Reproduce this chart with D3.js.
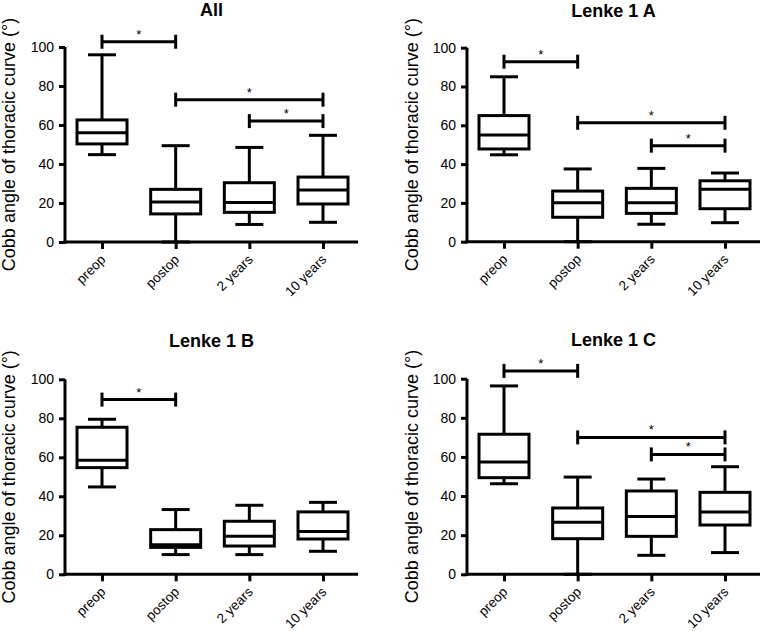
<!DOCTYPE html>
<html>
<head>
<meta charset="utf-8">
<script src="https://cdn.jsdelivr.net/npm/d3@7/dist/d3.min.js"></script>
<style>
  html, body { margin: 0; padding: 0; background: #fff; }
  svg { display: block; }
  text { font-family: Arial, "Liberation Sans", Helvetica, sans-serif; fill: #000; }
</style>
</head>
<body>
<svg id="chart" width="761" height="631"></svg>
<script>
// ---------- DATA ----------
const categories = ["preop", "postop", "2 years", "10 years"];
const yTicks = [0, 20, 40, 60, 80, 100];
const panelTitles = ["All", "Lenke 1 A", "Lenke 1 B", "Lenke 1 C"];

// five-number summaries per category: [min, q1, median, q3, max]
const statsAll = [
  [44.8, 50.3, 56.0, 62.6, 96.0],
  [0.0, 14.4, 20.5, 27.0, 49.4],
  [9.0, 15.2, 20.3, 30.4, 48.5],
  [10.1, 19.5, 26.7, 33.3, 54.7]
];
const stats1A = [
  [44.8, 47.8, 55.0, 65.0, 85.0],
  [0.0, 12.6, 20.1, 26.1, 37.5],
  [9.0, 14.6, 20.1, 27.5, 37.8],
  [9.8, 17.0, 27.0, 31.4, 35.4]
];
const stats1B = [
  [44.8, 54.7, 58.5, 75.4, 79.5],
  [10.1, 13.8, 15.2, 22.9, 33.2],
  [10.1, 14.5, 19.5, 27.2, 35.4],
  [11.8, 18.1, 22.0, 32.0, 36.9]
];
const stats1C = [
  [46.3, 49.4, 57.4, 71.6, 96.3],
  [0.0, 18.2, 26.6, 33.9, 49.7],
  [9.7, 19.4, 29.5, 42.6, 48.7],
  [11.1, 25.2, 31.9, 41.9, 55.0]
];

// significance brackets: [from category index, to category index, y value]
const sigAll = [[0, 1, 102.7], [1, 3, 73.0], [2, 3, 62.0]];
const sig1A = [[0, 1, 92.8], [1, 3, 61.3], [2, 3, 49.5]];
const sig1B = [[0, 1, 89.6]];
const sig1C = [[0, 1, 104.0], [1, 3, 70.0], [2, 3, 61.3]];

const yLabel = "Cobb angle of thoracic curve (°)";

// ---------- LAYOUT ----------
const panels = [
  { title: panelTitles[0], stats: statsAll, sig: sigAll, x0: 65, x1: 358, yTop: 47, yBot: 242, titleY: 16, labelX: 15 },
  { title: panelTitles[1], stats: stats1A, sig: sig1A, x0: 467, x1: 760, yTop: 47.7, yBot: 241.7, titleY: 17, labelX: 418 },
  { title: panelTitles[2], stats: stats1B, sig: sig1B, x0: 65, x1: 358, yTop: 379.3, yBot: 574.3, titleY: 347, labelX: 15 },
  { title: panelTitles[3], stats: stats1C, sig: sig1C, x0: 467, x1: 760, yTop: 378.7, yBot: 574.3, titleY: 346, labelX: 418 }
];

const svg = d3.select("#chart");
const SW = 3;
const boxW = 50;
const capW = 28;

panels.forEach(p => {
  const g = svg.append("g");
  const y = d3.scaleLinear().domain([0, 100]).range([p.yBot, p.yTop]);
  const x = d3.scalePoint().domain(categories).range([p.x0 + 37, p.x0 + 258]);

  // y axis
  const ya = g.append("g")
    .attr("transform", `translate(${p.x0},0)`)
    .call(d3.axisLeft(y).tickValues(yTicks).tickSize(6).tickSizeOuter(0).tickPadding(5));
  ya.select(".domain").attr("stroke-width", SW).attr("d", `M0,${p.yBot + SW / 2}V${p.yTop}`);
  ya.selectAll(".tick line").attr("stroke-width", SW);
  ya.selectAll(".tick text").attr("font-size", 14).style("font-family", "Arial, 'Liberation Sans', sans-serif");

  // x axis (labels drawn separately, rotated)
  const xa = g.append("g")
    .attr("transform", `translate(0,${p.yBot})`)
    .call(d3.axisBottom(x).tickSize(7).tickSizeOuter(0).tickFormat(""));
  xa.select(".domain").attr("stroke-width", SW).attr("d", `M${p.x0 - SW / 2},0H${p.x1}`);
  xa.selectAll(".tick line").attr("stroke-width", SW);

  g.selectAll(".xlab").data(categories).enter().append("text")
    .attr("class", "xlab")
    .attr("transform", d => `translate(${x(d) + 1},${p.yBot + 15}) rotate(-45)`)
    .attr("text-anchor", "end")
    .attr("dy", "0.35em")
    .attr("font-size", 13.5)
    .text(d => d);

  // boxes
  p.stats.forEach((s, i) => {
    const cx = x(categories[i]);
    const [mn, q1, md, q3, mx] = s;
    const bg = g.append("g").attr("stroke", "#000").attr("stroke-width", SW).attr("fill", "none");
    bg.append("line").attr("x1", cx).attr("x2", cx).attr("y1", y(mn)).attr("y2", y(q1));
    bg.append("line").attr("x1", cx).attr("x2", cx).attr("y1", y(q3)).attr("y2", y(mx));
    bg.append("line").attr("x1", cx - capW / 2).attr("x2", cx + capW / 2).attr("y1", y(mn)).attr("y2", y(mn));
    bg.append("line").attr("x1", cx - capW / 2).attr("x2", cx + capW / 2).attr("y1", y(mx)).attr("y2", y(mx));
    bg.append("rect").attr("x", cx - boxW / 2).attr("width", boxW)
      .attr("y", y(q3)).attr("height", y(q1) - y(q3)).attr("fill", "#fff");
    bg.append("line").attr("x1", cx - boxW / 2).attr("x2", cx + boxW / 2).attr("y1", y(md)).attr("y2", y(md));
  });

  // significance brackets
  p.sig.forEach(([a, b, v]) => {
    const xa1 = x(categories[a]), xb1 = x(categories[b]), yy = y(v);
    const sg = g.append("g").attr("stroke", "#000").attr("stroke-width", SW);
    sg.append("line").attr("x1", xa1).attr("x2", xb1).attr("y1", yy).attr("y2", yy);
    sg.append("line").attr("x1", xa1).attr("x2", xa1).attr("y1", yy - 7).attr("y2", yy + 7);
    sg.append("line").attr("x1", xb1).attr("x2", xb1).attr("y1", yy - 7).attr("y2", yy + 7);
    g.append("text").attr("x", (xa1 + xb1) / 2).attr("y", yy - 3)
      .attr("text-anchor", "middle").attr("font-size", 13).text("*");
  });

  // title
  g.append("text").attr("x", (p.x0 + p.x1) / 2).attr("y", p.titleY)
    .attr("text-anchor", "middle").attr("font-size", 18).attr("font-weight", "bold").text(p.title);

  // y label
  g.append("text")
    .attr("transform", `translate(${p.labelX},${(p.yTop + p.yBot) / 2}) rotate(-90)`)
    .attr("text-anchor", "middle").attr("font-size", 18).text(yLabel);
});
</script>
</body>
</html>
